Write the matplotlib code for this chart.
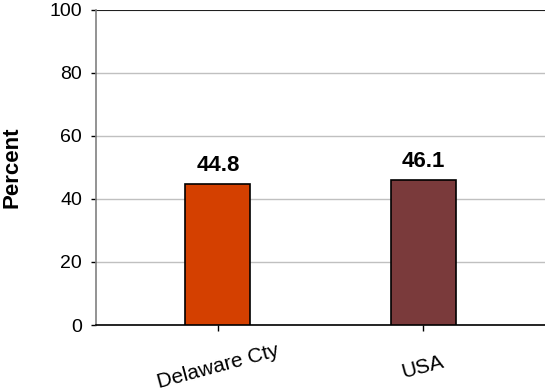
import matplotlib
matplotlib.use("Agg")
import matplotlib.pyplot as plt

categories = ["Delaware Cty", "USA"]
values = [44.8, 46.1]
bar_colors = ["#D44000", "#7A3A3B"]
yticks = [0, 20, 40, 60, 80, 100]

plt.rcParams["font.family"] = ["Liberation Sans", "DejaVu Sans"]

fig = plt.figure(figsize=(5.45, 3.92), dpi=100)
ax = fig.add_axes([96 / 545, 67 / 392, 449 / 545, 315.5 / 392])

x = list(range(len(categories)))
ax.bar(x, values, width=0.317, color=bar_colors, edgecolor="black",
       linewidth=1.2, zorder=3)

for xi, v in zip(x, values):
    ax.text(xi, v + 4, f"{v:.1f}", ha="center", va="baseline",
            fontsize=16, fontweight="bold")

ax.set_xlim(-0.595, 1.595)
ax.set_ylim(0, 100)
ax.set_yticks(yticks)
ax.set_yticklabels([str(t) for t in yticks], fontsize=14)
ax.set_xticks(x)
ax.set_xticklabels(categories, fontsize=15, rotation=15, ha="center",
                   va="center")
ax.tick_params(axis="x", length=4, width=1, pad=26)
ax.tick_params(axis="y", length=3.6, width=1, color="black", pad=6.5)

ax.yaxis.grid(True, color="#C0C0C0", linewidth=1, zorder=0)
ax.axhline(100, color="black", linewidth=1.2, zorder=2)
ax.set_axisbelow(True)

for s in ["top", "right"]:
    ax.spines[s].set_visible(False)
ax.spines["left"].set_color("#808080")
ax.spines["left"].set_linewidth(1.2)
ax.spines["bottom"].set_color("black")
ax.spines["bottom"].set_linewidth(1.2)

fig.text(12 / 545, 1 - 167 / 392, "Percent", rotation=90, ha="center",
         va="center", fontsize=16, fontweight="bold")

fig.savefig("out.png", dpi=100)
